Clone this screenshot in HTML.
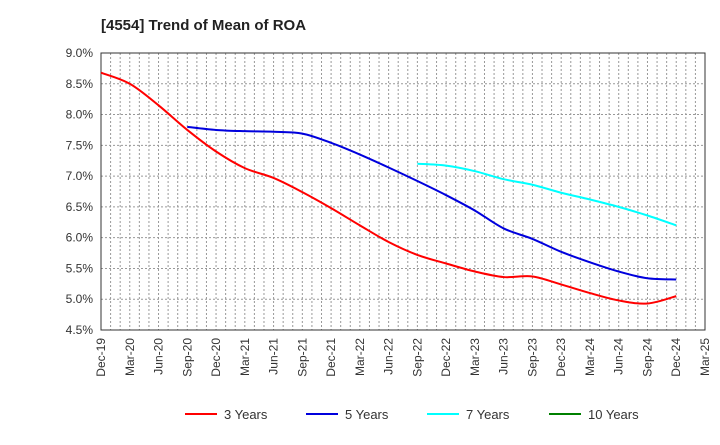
<!DOCTYPE html>
<html><head><meta charset="utf-8"><style>
body{margin:0;background:#fff;font-family:"Liberation Sans",Arial,sans-serif;}
svg text{font-family:"Liberation Sans",Arial,sans-serif;}
</style></head><body>
<svg id="chart" width="720" height="440" xmlns="http://www.w3.org/2000/svg">
<text x="101" y="30" font-size="15" font-weight="bold" fill="#222">[4554]  Trend of Mean of ROA</text>
<g id="grid"></g><g id="axes"></g><g id="series"></g><g id="legend"></g>
</svg>
<script>
const categories=["Dec-19","Mar-20","Jun-20","Sep-20","Dec-20","Mar-21","Jun-21","Sep-21","Dec-21","Mar-22","Jun-22","Sep-22","Dec-22","Mar-23","Jun-23","Sep-23","Dec-23","Mar-24","Jun-24","Sep-24","Dec-24","Mar-25"];
const yTicks=[4.5,5.0,5.5,6.0,6.5,7.0,7.5,8.0,8.5,9.0];
const s3=[8.68,8.50,8.15,7.75,7.40,7.13,6.97,6.74,6.48,6.20,5.93,5.72,5.58,5.45,5.36,5.37,5.24,5.10,4.98,4.93,5.05];
const s5=[null,null,null,7.80,7.75,7.73,7.72,7.69,7.54,7.35,7.14,6.92,6.69,6.44,6.15,5.98,5.77,5.60,5.45,5.34,5.32];
const s7=[null,null,null,null,null,null,null,null,null,null,null,7.20,7.17,7.08,6.95,6.86,6.73,6.62,6.50,6.36,6.20];
const s10=[];
const NS="http://www.w3.org/2000/svg";
const L=101,R=705,T=53,B=330;
const xs=i=>L+(R-L)*i/(categories.length-1);
const ys=v=>B-(B-T)*(v-4.5)/4.5;
function mk(t,a,p){const e=document.createElementNS(NS,t);for(const k in a)e.setAttribute(k,a[k]);p.appendChild(e);return e;}
const grid=document.getElementById('grid'),axes=document.getElementById('axes'),ser=document.getElementById('series'),leg=document.getElementById('legend');
for(let m=1;m<(categories.length-1)*3;m++){const x=L+(R-L)*m/((categories.length-1)*3);
const g=mk('line',{x1:x,x2:x,y1:T,y2:B,stroke:'#999','stroke-dasharray':'2,2','stroke-width':1},grid);

}
yTicks.forEach(v=>{const y=ys(v);
const g=mk('line',{x1:L,x2:R,y1:y,y2:y,stroke:'#999','stroke-dasharray':'2,2','stroke-width':1},grid);


const t=mk('text',{x:L-8,y:y+4,'text-anchor':'end','font-size':12,fill:'#333'},axes);t.textContent=v.toFixed(1)+'%';

});
const fr=mk('rect',{x:L,y:T,width:R-L,height:B-T,fill:'none',stroke:'#333','stroke-width':1},axes);


categories.forEach((c,i)=>{const x=xs(i);const t=mk('text',{x:x+4,y:B+8,'text-anchor':'end','font-size':12,fill:'#333',transform:`rotate(-90 ${x+4} ${B+8})`},axes);t.textContent=c;

});
function path(d){const p=[];d.forEach((v,i)=>{if(v!=null)p.push([xs(i),ys(v)]);});if(p.length<2)return'';
let s=`M${p[0][0]},${p[0][1]}`;for(let i=0;i<p.length-1;i++){const p0=p[i-1]||p[i],p1=p[i],p2=p[i+1],p3=p[i+2]||p2;
s+=` C${p1[0]+(p2[0]-p0[0])/6},${p1[1]+(p2[1]-p0[1])/6} ${p2[0]-(p3[0]-p1[0])/6},${p2[1]-(p3[1]-p1[1])/6} ${p2[0]},${p2[1]}`;}return s;}
const series=[[s3,'#ff0000','3 Years','series-3-years'],[s5,'#0000dd','5 Years','series-5-years'],[s7,'#00ffff','7 Years','series-7-years'],[s10,'#008000','10 Years','series-10-years']];
series.forEach(([d,c,n,id])=>{const dd=path(d);if(dd){const p=mk('path',{d:dd,fill:'none',stroke:c,'stroke-width':2},ser);

}});
const lx=[185,306,427,549];
series.forEach(([d,c,n,id],i)=>{const g=mk('g',{},leg);


mk('line',{x1:lx[i],x2:lx[i]+32,y1:414,y2:414,stroke:c,'stroke-width':2},g);
const t=mk('text',{x:lx[i]+39,y:419,'font-size':13,fill:'#333'},g);t.textContent=n;});
</script>
</body></html>
